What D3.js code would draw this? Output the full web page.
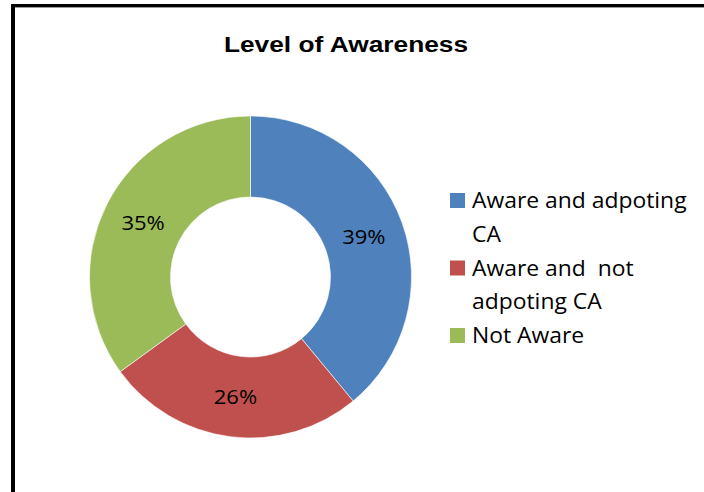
<!DOCTYPE html>
<html><head><meta charset="utf-8">
<script src="https://cdn.jsdelivr.net/npm/d3@7"></script>
<style>html,body{margin:0;padding:0;background:#fff;}svg{display:block;}</style>
</head><body>
<script>
const categories = ["Aware and adpoting CA", "Aware and  not adpoting CA", "Not Aware"];
const legendLines = [["Aware and adpoting", "CA"], ["Aware and  not", "adpoting CA"], ["Not Aware"]];
const values = [39, 26, 35];
const colors = ["#4F81BD", "#C0504D", "#9BBB59"];
const title = "Level of Awareness";

const W = 704, H = 492;
const svg = d3.select("body").append("svg").attr("width", W).attr("height", H);
svg.append("rect").attr("width", W).attr("height", H).attr("fill", "#fff");

// frame
svg.append("rect").attr("x", 11).attr("y", 4).attr("width", W - 11).attr("height", 3).attr("fill", "#000");
svg.append("rect").attr("x", 15).attr("y", 7).attr("width", W - 15).attr("height", 1).attr("fill", "#9a9a9a");
svg.append("rect").attr("x", 11).attr("y", 4).attr("width", 4).attr("height", H - 4).attr("fill", "#000");

// title
svg.append("text").attr("transform", "translate(346,52) scale(1.17,1)").attr("text-anchor", "middle")
  .attr("font-family", "Liberation Sans, Arial, sans-serif").attr("font-weight", "bold")
  .attr("font-size", 22.5)
  .attr("fill", "#000").text(title);

const cx = 250.5, cy = 277, rOuter = 161, rInner = 80;
const pie = d3.pie().sort(null).value(d => d)(values);
const arc = d3.arc().innerRadius(rInner).outerRadius(rOuter);
const g = svg.append("g").attr("transform", `translate(${cx},${cy})`);
g.selectAll("path").data(pie).join("path")
  .attr("d", arc).attr("fill", (d, i) => colors[i])
  .attr("stroke", "#fff").attr("stroke-width", 0.6);

const fmt = d3.format(".0%");
const total = d3.sum(values);
g.selectAll("text.lbl").data(pie).join("text").attr("class", "lbl")
  .attr("transform", d => `translate(${arc.centroid(d)}) scale(1.1,1)`)
  .attr("text-anchor", "middle").attr("dy", "0.38em")
  .attr("font-family", "Open Sans, sans-serif").attr("font-size", 20)
  .attr("fill", "#000")
  .text(d => fmt(d.data / total));

// legend
const lineH = 33.8;
const itemY = [208, 275.5, 343];
const lg = svg.append("g");
legendLines.forEach((lines, i) => {
  lg.append("rect").attr("x", 450).attr("y", itemY[i] - 15).attr("width", 15).attr("height", 15).attr("fill", colors[i]);
  lines.forEach((t, j) => {
    lg.append("text").attr("transform", `translate(472,${itemY[i] + j * lineH}) scale(1.09,1)`)
      .attr("font-family", "Open Sans, sans-serif").attr("font-size", 21)
      .attr("fill", "#000").style("white-space", "pre").attr("xml:space", "preserve").text(t);
  });
});
</script>
</body></html>
